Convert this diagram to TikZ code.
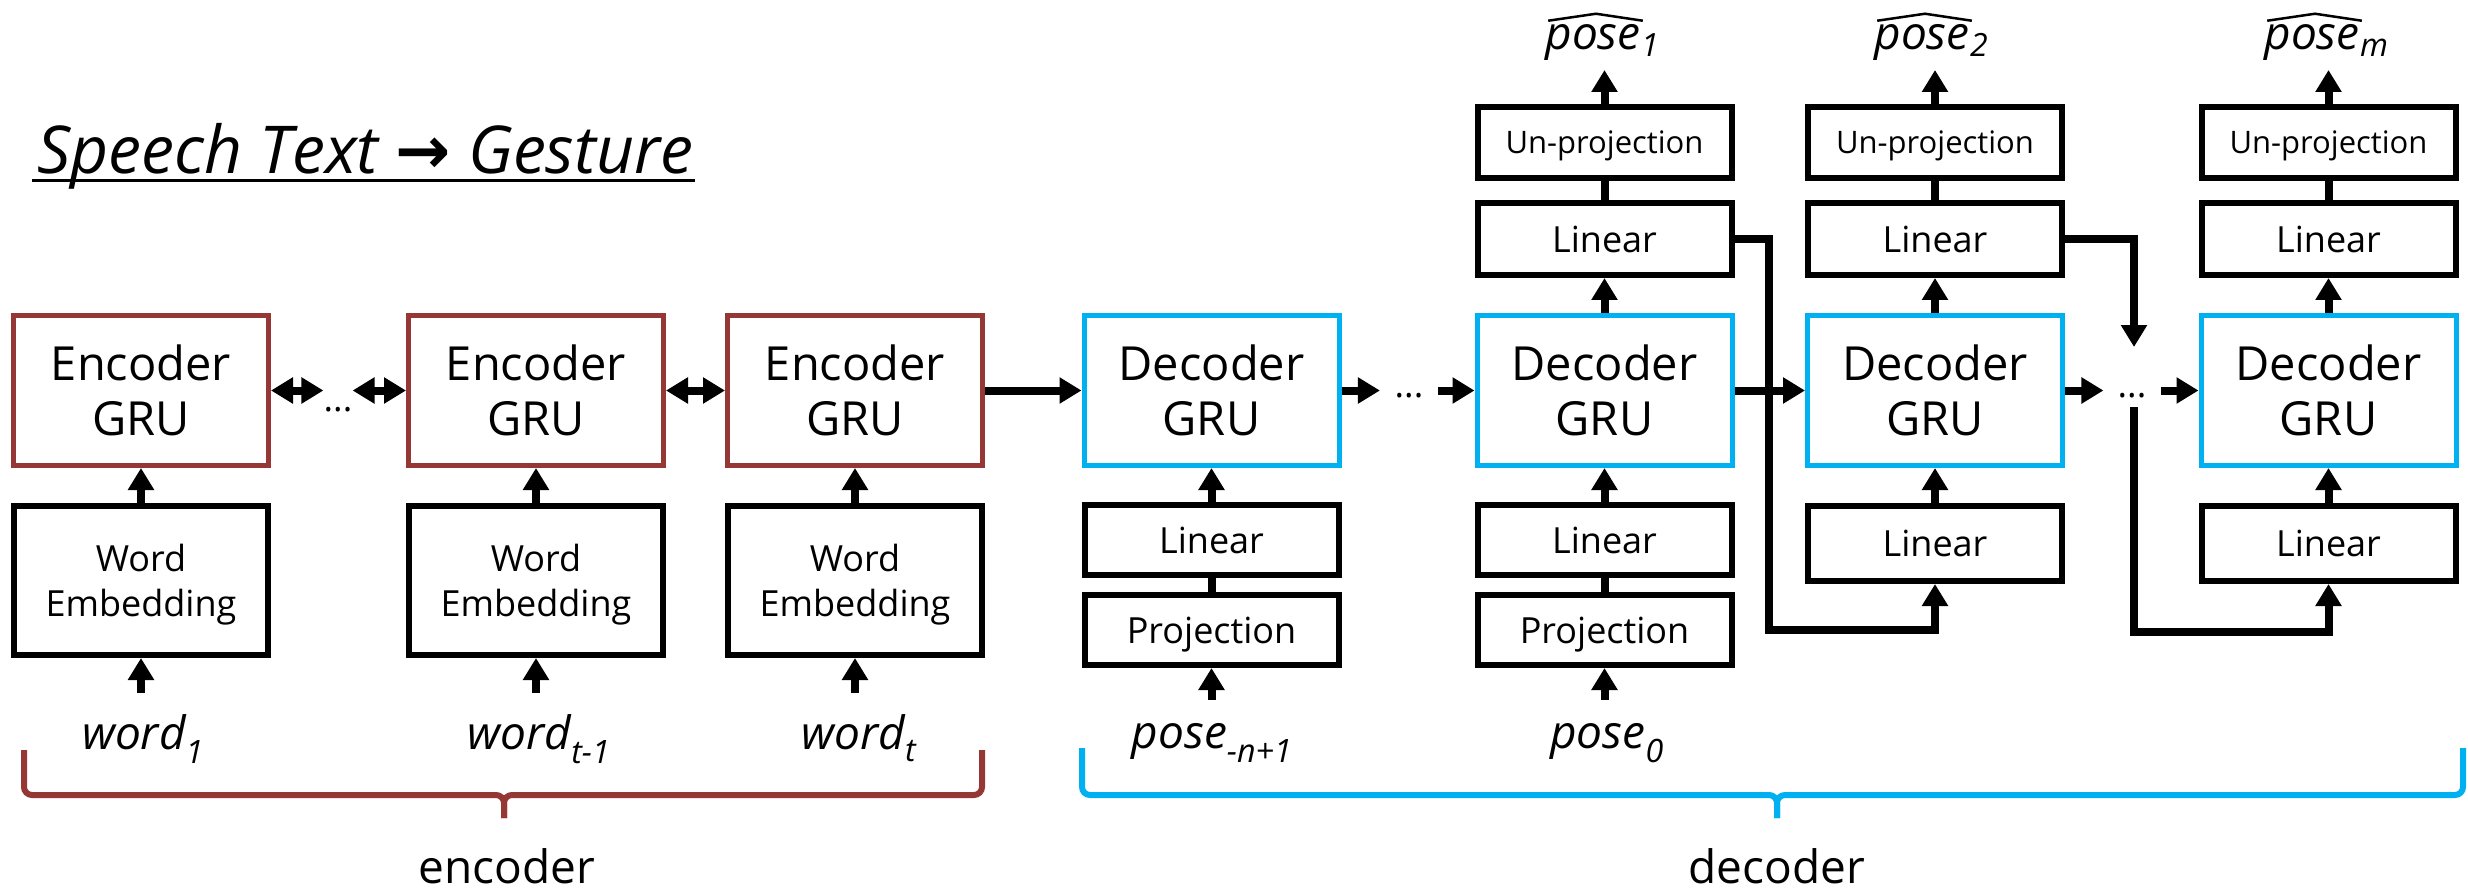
\documentclass[tikz,border=0pt]{standalone}
\usepackage{fontspec}
\setmainfont{Open Sans}
\newfontfamily\symfont{DejaVu Sans}
\usetikzlibrary{arrows.meta,calc}
\definecolor{encred}{RGB}{149,55,53}
\definecolor{deccyan}{RGB}{0,176,240}
\newcommand\fsz[2]{\fontsize{#1}{#2}\selectfont}
\begin{document}
\begin{tikzpicture}[x=1pt,y=-1pt,line join=miter,
  every node/.style={inner sep=0pt},
  gru/.style={line width=5pt,minimum width=255pt,minimum height=150pt,align=center,font=\fsz{47}{55},text depth=0pt},
  encbox/.style={gru,draw=encred},
  decbox/.style={gru,draw=deccyan},
  blk/.style={draw=black,line width=6pt,minimum width=254pt,align=center,text depth=0pt},
  webox/.style={blk,minimum height=149pt,font=\fsz{36}{45}},
  linbox/.style={blk,minimum height=70pt,font=\fsz{36}{43}},
  unpbox/.style={blk,minimum height=71pt,font=\fsz{31}{37}},
  arr/.style={line width=8pt,-{Triangle[length=22pt,width=25pt]}},
  darr/.style={line width=8pt,{Triangle[length=22pt,width=25pt]}-{Triangle[length=22pt,width=25pt]}},
  conn/.style={line width=8pt},
  lbl/.style={font=\fsz{46}{55}\itshape},
  sublbl/.style={font=\fsz{32}{38}\itshape},
  hat/.style={line width=2.5pt,line join=round},
  dots/.style={font=\fsz{36}{40}},
  brace/.style={line width=6pt,rounded corners=8pt},
  caption/.style={font=\fsz{46}{55}}]
\useasboundingbox (0,0) rectangle (2468,893);
\fill[white] (0,0) rectangle (2468,893);

% title
\node[font=\fsz{66}{74}\itshape,anchor=base west] (title) at (37,174) {Speech Text {\symfont\upshape\bfseries →} Gesture};
\draw[line width=3pt] ($(title.base west)+(-5,7)$) -- ($(title.base east)+(2,7)$);

% encoder
\node[encbox] (E1) at (141,390.5) {Encoder\\GRU};
\node[encbox] (E2) at (536,390.5) {Encoder\\GRU};
\node[encbox] (E3) at (855,390.5) {Encoder\\GRU};
\node[webox] (W1) at (141,580.5) {Word\\Embedding};
\node[webox] (W2) at (536,580.5) {Word\\Embedding};
\node[webox] (W3) at (855,580.5) {Word\\Embedding};
\node[dots] (ed) at (338,410) {...};

\node[lbl,anchor=base] (w1) at (143,749) {word\textsubscript{1}};
\node[lbl,anchor=base] (w2) at (539,749) {word\textsubscript{t-1}};
\node[lbl,anchor=base] (w3) at (859,749) {word\textsubscript{t}};
\coordinate (wi1) at (141,693);
\coordinate (wi2) at (536,693);
\coordinate (wi3) at (855,693);

\draw[arr] (wi1) -- (W1.south);
\draw[arr] (wi2) -- (W2.south);
\draw[arr] (wi3) -- (W3.south);
\draw[arr] (W1.north) -- (E1.south);
\draw[arr] (W2.north) -- (E2.south);
\draw[arr] (W3.north) -- (E3.south);
\draw[darr] (E1.east) -- (E1.east -| ed.west);
\draw[darr] (ed.east |- E2.west) -- (E2.west);
\draw[darr] (E2.east) -- (E3.west);

% decoder
\node[decbox] (D1) at (1211.5,390.5) {Decoder\\GRU};
\node[decbox] (D2) at (1604.5,390.5) {Decoder\\GRU};
\node[decbox] (D3) at (1935,390.5) {Decoder\\GRU};
\node[decbox] (D4) at (2328.5,390.5) {Decoder\\GRU};
\node[dots,inner xsep=14.5pt] (dd1) at (1409,396) {...};
\node[dots,inner xsep=14pt] (dd2) at (2132,396) {...};
\draw[arr] (E3.east) -- (D1.west);

\node[linbox] (L1) at (1211.5,540) {Linear};
\node[linbox] (P1) at (1211.5,630) {Projection};
\node[linbox] (L2) at (1604.5,540) {Linear};
\node[linbox] (P2) at (1604.5,630) {Projection};
\node[linbox,minimum height=75pt] (L3) at (1935,543.5) {Linear};
\node[linbox,minimum height=75pt] (L4) at (2328.5,543.5) {Linear};

\node[linbox,minimum height=72pt] (M2) at (1604.5,239) {Linear};
\node[linbox,minimum height=72pt] (M3) at (1935,239) {Linear};
\node[linbox,minimum height=72pt] (M4) at (2328.5,239) {Linear};
\node[unpbox] (U2) at (1604.5,142.5) {Un-projection};
\node[unpbox] (U3) at (1935,142.5) {Un-projection};
\node[unpbox] (U4) at (2328.5,142.5) {Un-projection};

\node[lbl,anchor=base] (p1) at (1212,748) {pose\textsubscript{-n+1}};
\node[lbl,anchor=base] (p2) at (1607,748) {pose\textsubscript{0}};
\coordinate (pi1) at (1211.5,700);
\coordinate (pi2) at (1604.5,700);

% outputs
\node[lbl,anchor=base] (o2) at (1593,50) {pose};
\node[sublbl,anchor=base west] (o2s) at ($(o2.base east)+(0,7)$) {1};
\node[lbl,anchor=base] (o3) at (1922,50) {pose};
\node[sublbl,anchor=base west] (o3s) at ($(o3.base east)+(0,7)$) {2};
\node[lbl,anchor=base] (o4) at (2312,50) {pose};
\node[sublbl,anchor=base west] (o4s) at ($(o4.base east)+(0,7)$) {m};
\foreach \o in {o2,o3,o4}{
  \draw[hat] ($(\o.north west)+(3,-4)$) -- ($(\o.north)+(3,-11)$) -- ($(\o.north east)+(2,-4)$);
}
\coordinate (po2) at (1604.5,70);
\coordinate (po3) at (1935,70);
\coordinate (po4) at (2328.5,70);

% decoder connectors
\draw[arr] (pi1) -- (P1.south);
\draw[arr] (pi2) -- (P2.south);
\draw[conn] (P1.north) -- (L1.south);
\draw[conn] (P2.north) -- (L2.south);
\draw[arr] (L1.north) -- (D1.south);
\draw[arr] (L2.north) -- (D2.south);
\draw[arr] (L3.north) -- (D3.south);
\draw[arr] (L4.north) -- (D4.south);

\draw[arr] (D1.east) -- (D1.east -| dd1.west);
\draw[arr] (dd1.east |- D2.west) -- (D2.west);
\draw[arr] (D3.east) -- (D3.east -| dd2.west);
\draw[arr] (dd2.east |- D4.west) -- (D4.west);

\draw[arr] (D2.north) -- (M2.south);
\draw[arr] (D3.north) -- (M3.south);
\draw[arr] (D4.north) -- (M4.south);
\draw[conn] (M2.north) -- (U2.south);
\draw[conn] (M3.north) -- (U3.south);
\draw[conn] (M4.north) -- (U4.south);
\draw[arr] (U2.north) -- (po2);
\draw[arr] (U3.north) -- (po3);
\draw[arr] (U4.north) -- (po4);

\coordinate (fa) at (1769,630);
\coordinate (fb1) at (2134,347);
\coordinate (fb2) at (2134,407);
\coordinate (fb3) at (2134,632);
\draw[arr] (M2.east) -| (fa) -| (L3.south);
\draw[arr] (D2.east) -- (D3.west);
\draw[arr] (M3.east) -| (fb1);
\draw[arr] (fb2) -- (fb3) -| (L4.south);

% braces
\coordinate (eb) at (504,818);
\coordinate (db) at (1777,818);
\draw[brace,encred] (24,750) -- (24,795) -- (eb |- 0,795) -- (eb);
\draw[brace,encred] (982,750) -- (982,795) -- (eb |- 0,795) -- (eb);
\draw[brace,deccyan] (1082,748) -- (1082,795) -- (db |- 0,795) -- (db);
\draw[brace,deccyan] (2463,748) -- (2463,795) -- (db |- 0,795) -- (db);
\node[caption,anchor=base] (enc) at (507,883) {encoder};
\node[caption,anchor=base] (dec) at (1777,883) {decoder};
\end{tikzpicture}
\end{document}
